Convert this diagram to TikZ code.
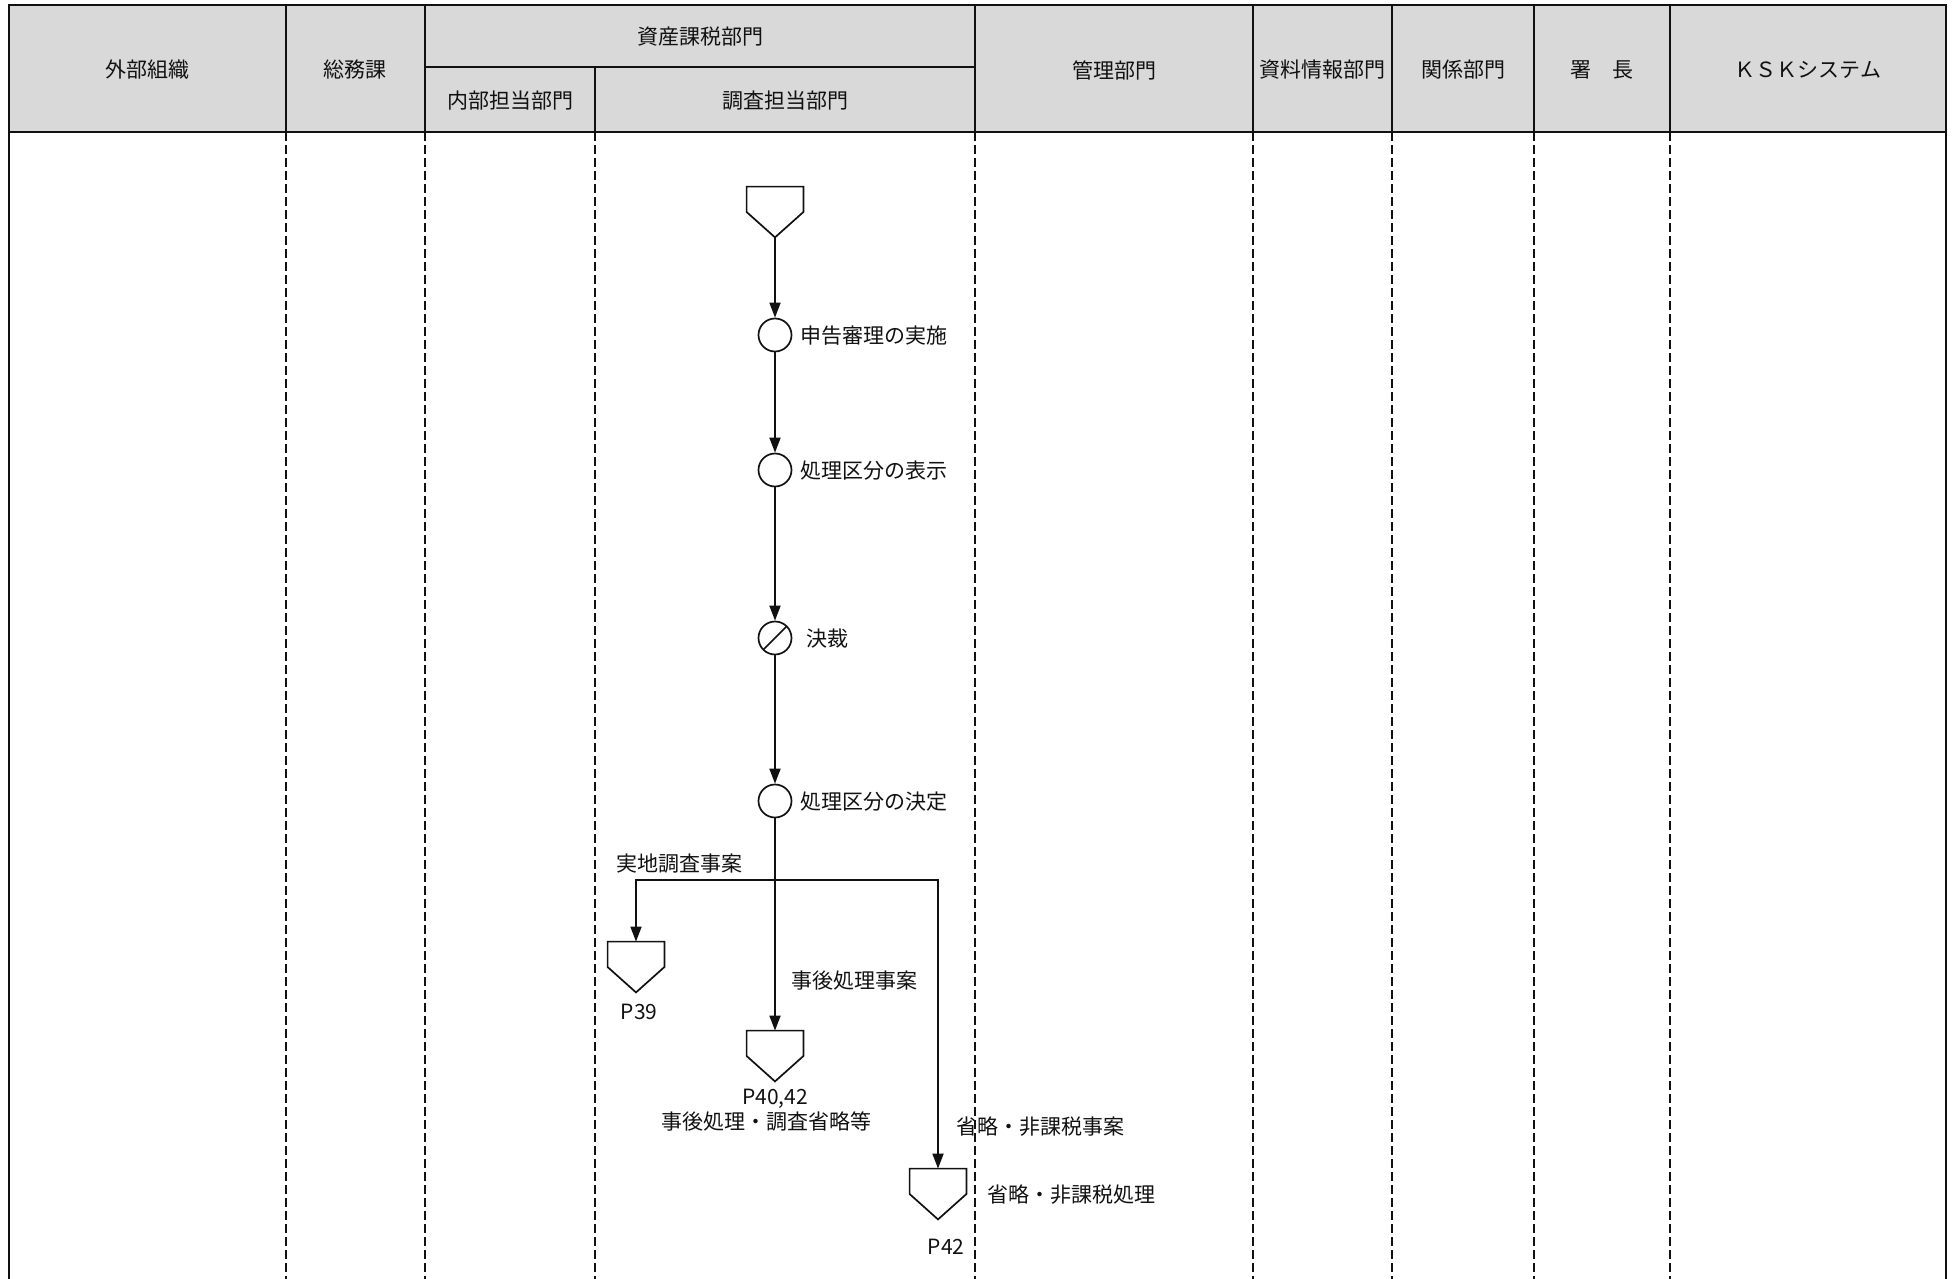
\documentclass[tikz,border=0pt]{standalone}
\usepackage{fontspec}
\setmainfont{Noto Sans CJK JP}
\usetikzlibrary{arrows.meta,positioning}
\definecolor{headfill}{HTML}{D9D9D9}
\definecolor{ink}{HTML}{111111}

% off-page connector: a box that is drawn as a home-plate pentagon
\newcommand\offpage[3]{%
  \node[pagebox] (#1) at (#2,#3) {};
  \draw[shapeline] (#1.north west) -- (#1.north east) -- (#1.east) -- (#1.south) -- (#1.west) -- cycle;}

\begin{document}
\begin{tikzpicture}[x=0.5pt,y=-0.5pt,
    every node/.style={font=\fontsize{10.5}{12}\selectfont,text=ink,inner sep=0pt},
    txt/.style={yshift=-0.5pt},
    hline/.style={draw=ink,line width=1pt},
    lane/.style={draw=ink,line width=0.75pt,dash pattern=on 4.5pt off 2pt},
    shapeline/.style={draw=ink,line width=0.85pt},
    proc/.style={circle,shapeline,minimum size=16.5pt},
    appr/.style={proc,path picture={\draw[shapeline] (path picture bounding box.south west) -- (path picture bounding box.north east);}},
    pagebox/.style={minimum width=28pt,minimum height=25pt},
    flow/.style={draw=ink,line width=0.85pt,-{Triangle[length=7.5pt,width=5.5pt]}},
    note/.style={txt,anchor=west}]
  \useasboundingbox (0,0) rectangle (1959,1279);

  % header
  \fill[headfill] (9,5) rectangle (1946,132);
  \foreach \x in {286,425,975,1253,1392,1534,1670}{\draw[hline] (\x,5) -- (\x,132);}
  \draw[hline] (595,67) -- (595,132);
  \draw[hline] (425,67) -- (975,67);
  \draw[draw=ink,line width=1.4pt] (9,5) rectangle (1946,132);
  \node[txt] (gaibu) at (147,69) {外部組織};
  \node[txt] (somu) at (355,69) {総務課};
  \node[txt] (shisan) at (700,36) {資産課税部門};
  \node[txt] (naibu) at (510,100) {内部担当部門};
  \node[txt] (chosa) at (785,100) {調査担当部門};
  \node[txt] (kanri) at (1114,69) {管理部門};
  \node[txt] (shiryo) at (1322,69) {資料情報部門};
  \node[txt] (kankei) at (1463,69) {関係部門};
  \node[txt] (shocho) at (1602,69) {署　長};
  \node[txt] (ksk) at (1808,69) {ＫＳＫシステム};

  % lanes
  \foreach \x in {286,425,595,975,1253,1392,1534,1670}{\draw[lane] (\x,132) -- (\x,1279);}
  \draw[draw=ink,line width=1pt] (9,132) -- (9,1279);
  \draw[draw=ink,line width=0.75pt] (1946,132) -- (1946,1279);

  % flow
  \offpage{start}{775}{212}
  \node[proc] (shinkoku) at (775,335) {};
  \node[note,right=4pt of shinkoku] (shinkokut) {申告審理の実施};
  \node[proc] (hyoji) at (775,470) {};
  \node[note,right=4pt of hyoji] (hyojit) {処理区分の表示};
  \node[appr] (kessai) at (775,638) {};
  \node[note,right=7pt of kessai] (kessait) {決裁};
  \node[proc] (kettei) at (775,801) {};
  \node[note,right=4pt of kettei] (ketteit) {処理区分の決定};
  \coordinate (split) at (775,880);

  \offpage{p39}{636}{967}
  \offpage{p40}{775}{1056}
  \offpage{p42}{938}{1194}

  \draw[flow] (start.south) -- (shinkoku);
  \draw[flow] (shinkoku) -- (hyoji);
  \draw[flow] (hyoji) -- (kessai);
  \draw[flow] (kessai) -- (kettei);
  \draw[flow] (kettei) -- (p40.north);
  \draw[flow] (split) -| (p39.north);
  \draw[flow] (split) -| (p42.north);

  % branch labels
  \node[note] (jicchi) at (616,863) {実地調査事案};
  \node[note] (jigo) at (791,980) {事後処理事案};
  \node[note] (shoryaku) at (956,1126) {省略・非課税事案};

  \node[txt,below=5pt of p39,xshift=1.5pt] (p39t) {P39};
  \node[txt,below=3pt of p40] (p40t) {P40,42};
  \node[below=1.5pt of p40t,xshift=-4.5pt] (p40s) {事後処理・調査省略等};
  \node[txt,below=9pt of p42,xshift=4pt] (p42t) {P42};
  \node[note,right=10.5pt of p42] (p42s) {省略・非課税処理};
\end{tikzpicture}
\end{document}
